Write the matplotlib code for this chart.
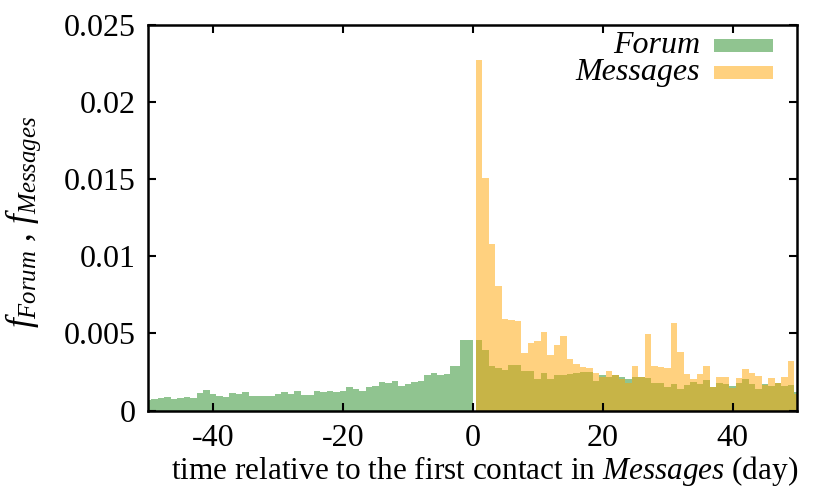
import numpy as np
import matplotlib
matplotlib.use('Agg')
import matplotlib.pyplot as plt
from matplotlib.patches import Rectangle
from matplotlib.ticker import FuncFormatter

# days before the first contact (forum only); -2 and 0 are missing in the data
forum_days_before = [-50, -49, -48, -47, -46, -45, -44, -43, -42, -41,
                     -40, -39, -38, -37, -36, -35, -34, -33, -32, -31,
                     -30, -29, -28, -27, -26, -25, -24, -23, -22, -21,
                     -20, -19, -18, -17, -16, -15, -14, -13, -12, -11,
                     -10, -9, -8, -7, -6, -5, -4, -3, -1]
forum_before = [0.00068, 0.00074, 0.00081, 0.00089, 0.00076, 0.00083, 0.00087, 0.00078, 0.00116, 0.00135,
                0.00109, 0.00094, 0.00089, 0.00116, 0.00105, 0.00122, 0.00096, 0.00094, 0.00094, 0.00096,
                0.00109, 0.00120, 0.00105, 0.00126, 0.00100, 0.00102, 0.00129, 0.00120, 0.00126, 0.00118,
                0.00124, 0.00155, 0.00142, 0.00129, 0.00150, 0.00161, 0.00185, 0.00177, 0.00192, 0.00159,
                0.00174, 0.00187, 0.00192, 0.00227, 0.00246, 0.00229, 0.00235, 0.00288, 0.00460]

days_after = list(range(1, 51))
forum_after = [0.00458, 0.00395, 0.00286, 0.00275, 0.00262, 0.00294, 0.00296, 0.00257, 0.00253, 0.00203,
               0.00242, 0.00207, 0.00233, 0.00229, 0.00238, 0.00246, 0.00249, 0.00251, 0.00190, 0.00233,
               0.00214, 0.00229, 0.00216, 0.00207, 0.00220, 0.00216, 0.00211, 0.00179, 0.00181, 0.00150,
               0.00174, 0.00140, 0.00164, 0.00187, 0.00174, 0.00196, 0.00155, 0.00179, 0.00172, 0.00157,
               0.00181, 0.00203, 0.00172, 0.00137, 0.00174, 0.00159, 0.00177, 0.00159, 0.00164, 0.00118]
messages_after = [0.02270, 0.01505, 0.01080, 0.00810, 0.00592, 0.00586, 0.00582, 0.00371, 0.00436, 0.00451,
                  0.00508, 0.00362, 0.00425, 0.00483, 0.00334, 0.00303, 0.00281, 0.00273, 0.00246, 0.00214,
                  0.00255, 0.00229, 0.00203, 0.00177, 0.00288, 0.00216, 0.00497, 0.00290, 0.00281, 0.00275,
                  0.00569, 0.00377, 0.00235, 0.00203, 0.00238, 0.00288, 0.00155, 0.00220, 0.00220, 0.00144,
                  0.00209, 0.00270, 0.00242, 0.00222, 0.00164, 0.00211, 0.00177, 0.00216, 0.00320, 0.00110]

x_ticks = [-40, -20, 0, 20, 40]
y_ticks = [0, 0.005, 0.01, 0.015, 0.02, 0.025]

FORUM_COLOR = '#228b22'
MESSAGES_COLOR = '#ffa500'
FS = 23


def box_edges(x):
    # gnuplot style auto box width: boxes reach half way to the neighbours
    x = np.asarray(x, dtype=float)
    mids = (x[1:] + x[:-1]) / 2.0
    left = np.concatenate([[x[0] - (x[1] - x[0]) / 2.0], mids])
    right = np.concatenate([mids, [x[-1] + (x[-1] - x[-2]) / 2.0]])
    return left, right - left


def draw_boxes(ax, x, y, color):
    left, width = box_edges(x)
    ax.bar(left, y, width=width, align='edge', color=color, alpha=0.5, linewidth=0)


plt.rcParams['font.family'] = 'Liberation Serif'
plt.rcParams['mathtext.fontset'] = 'custom'
plt.rcParams['mathtext.rm'] = 'Liberation Serif'
plt.rcParams['mathtext.it'] = 'Liberation Serif:italic'
plt.rcParams['axes.unicode_minus'] = False

fig = plt.figure(figsize=(8.3, 4.98), dpi=100)
ax = fig.add_axes([0.1783, 0.1757, 0.7825, 0.7743])

draw_boxes(ax, forum_days_before, forum_before, FORUM_COLOR)
draw_boxes(ax, days_after, forum_after, FORUM_COLOR)
draw_boxes(ax, days_after, messages_after, MESSAGES_COLOR)

ax.set_xlim(-50, 50)
ax.set_ylim(0, 0.025)
ax.set_xticks(x_ticks)
ax.set_yticks(y_ticks)
ax.yaxis.set_major_formatter(FuncFormatter(lambda v, p: '%g' % v))
ax.tick_params(direction='in', length=6, width=1.5, labelsize=FS,
               top=True, right=True)
ax.tick_params(axis='x', pad=10)
ax.tick_params(axis='y', pad=9)
for s in ax.spines.values():
    s.set_linewidth(1.8)

ax.set_xlabel('time relative to the first contact in $\\it{Messages}$ (day)', fontsize=22.5)
ax.xaxis.set_label_coords(0.518, -0.113)
ax.set_ylabel('$f_{Forum}$ , $f_{Messages}$', fontsize=25.5)
ax.yaxis.set_label_coords(-0.162, 0.49)

# key, top right
labels = ['Forum', 'Messages']
colors = [FORUM_COLOR, MESSAGES_COLOR]
rows_y = [0.946, 0.877]
for lab, c, yy in zip(labels, colors, rows_y):
    ax.text(0.85, yy, lab, transform=ax.transAxes, ha='right', va='center',
            fontsize=FS, style='italic')
    ax.add_patch(Rectangle((0.871, yy - 0.017), 0.091, 0.034, transform=ax.transAxes,
                           facecolor=c, alpha=0.5, linewidth=0))

fig.savefig('out.png', dpi=100)
